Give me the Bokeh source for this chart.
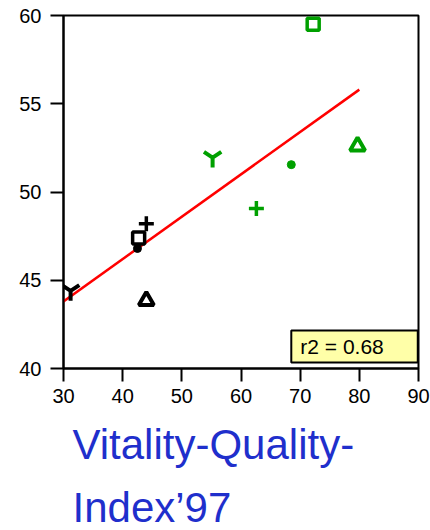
from bokeh.plotting import figure
from bokeh.models import Range1d, FixedTicker, Label, Title
from bokeh.embed import file_html
from bokeh.resources import INLINE

# Data
black_x = [31.2, 42.7, 44.0, 42.5, 44.0]
black_y = [44.4, 47.4, 48.2, 46.8, 43.85]
black_markers = ["y", "square", "cross", "circle", "triangle"]

green_x = [55.2, 72.2, 62.6, 68.5, 79.7]
green_y = [51.95, 59.5, 49.07, 51.55, 52.6]
green_markers = ["y", "square", "cross", "circle", "triangle"]

fit_x = [30, 80]
fit_y = [43.8, 55.8]

x_ticks = [30, 40, 50, 60, 70, 80, 90]
y_ticks = [40, 45, 50, 55, 60]
r2_text = "r2 = 0.68"
title_lines = ["Vitality-Quality-", "Index\u201997"]

FONT = "Liberation Sans"
GREEN = "#00a000"
BLUE = "#1f2fcc"

p = figure(width=430, height=530, output_backend="svg", toolbar_location=None,
           x_range=Range1d(30, 90), y_range=Range1d(40, 60),
           min_border_left=63, min_border_right=12, min_border_top=15,
           min_border_bottom=162)
p.xgrid.visible = False
p.ygrid.visible = False
p.outline_line_color = "black"
p.outline_line_width = 2
p.background_fill_color = "white"
p.border_fill_color = "white"

for ax, ticks in ((p.xaxis, x_ticks), (p.yaxis, y_ticks)):
    ax.ticker = FixedTicker(ticks=ticks)
    ax.major_tick_out = 13
    ax.major_tick_in = 0
    ax.minor_tick_line_color = None
    ax.axis_line_width = 2
    ax.major_tick_line_width = 2
    ax.axis_line_color = "black"
    ax.major_tick_line_color = "black"
    ax.major_label_text_font = FONT
    ax.major_label_text_font_size = "20px"
    ax.major_label_text_color = "black"
p.yaxis.major_label_standoff = 9
p.xaxis.major_label_standoff = 7

# Regression line
p.line(fit_x, fit_y, line_color="red", line_width=2.5)

def draw(xs, ys, markers, color):
    for x, y, m in zip(xs, ys, markers):
        if m == "circle":
            p.scatter([x], [y], marker="circle", size=8, fill_color=color, line_color=color)
        elif m == "square":
            p.scatter([x], [y], marker=m, size=12, fill_color="white",
                      line_color=color, line_width=3.5)
        elif m == "triangle":
            p.scatter([x], [y], marker=m, size=15, fill_color="white",
                      line_color=color, line_width=4)
        elif m == "y":
            p.scatter([x], [y], marker=m, size=20, fill_color=color,
                      line_color=color, line_width=4)
        else:
            p.scatter([x], [y], marker=m, size=15, fill_color=color,
                      line_color=color, line_width=3.5)

draw(black_x, black_y, black_markers, "black")
draw(green_x, green_y, green_markers, GREEN)

# r2 box
r2 = Label(x=68.5, y=40.34, text=r2_text, text_font=FONT, text_font_size="21px",
           text_color="black", background_fill_color="#ffffa8",
           border_line_color="black", border_line_width=2,
           padding=(9, 34, 5, 4))
p.add_layout(r2)

# Title below the chart (two lines)
for i, line in enumerate(title_lines):
    t = Title(text=line, text_font=FONT, text_font_size="42px",
              text_color=BLUE, text_font_style="normal", align="left",
              offset=9, standoff=0 if i else 27)
    p.add_layout(t, "below")

open("out.html", "w").write(file_html(p, INLINE))
